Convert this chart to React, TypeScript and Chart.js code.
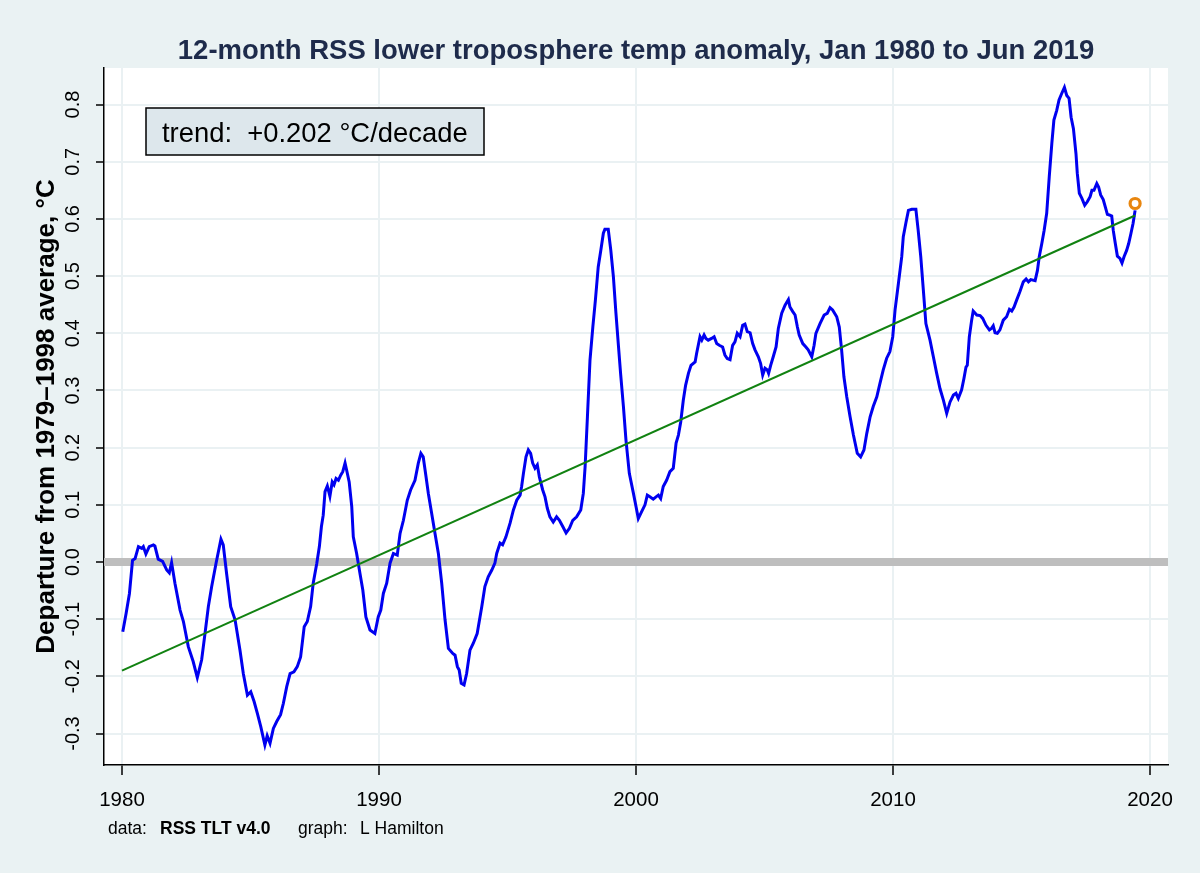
import React, { useEffect, useRef } from "react";
import { Chart, registerables } from "chart.js";

Chart.register(...registerables);

// ---- data ----
const years = [
  1980.03, 1980.16, 1980.29, 1980.41, 1980.51, 1980.64, 1980.77, 1980.83, 1980.93, 1981.06,
  1981.22, 1981.28, 1981.41, 1981.58, 1981.74, 1981.84, 1981.93, 1982.06, 1982.26, 1982.39,
  1982.58, 1982.77, 1982.93, 1983.10, 1983.23, 1983.36, 1983.49, 1983.66, 1983.85, 1983.94,
  1984.07, 1984.23, 1984.40, 1984.59, 1984.72, 1984.88, 1985.01, 1985.14, 1985.27, 1985.40,
  1985.56, 1985.65, 1985.76, 1985.89, 1986.02, 1986.17, 1986.28, 1986.41, 1986.54, 1986.69,
  1986.82, 1986.95, 1987.09, 1987.21, 1987.34, 1987.44, 1987.58, 1987.68, 1987.76, 1987.83,
  1987.90, 1987.99, 1988.09, 1988.18, 1988.25, 1988.33, 1988.42, 1988.51, 1988.59, 1988.68,
  1988.74, 1988.84, 1988.94, 1989.00, 1989.13, 1989.26, 1989.37, 1989.49, 1989.65, 1989.84,
  1989.97, 1990.07, 1990.17, 1990.30, 1990.43, 1990.56, 1990.71, 1990.82, 1990.95, 1991.10,
  1991.23, 1991.40, 1991.53, 1991.63, 1991.72, 1991.83, 1991.92, 1992.05, 1992.18, 1992.31,
  1992.44, 1992.57, 1992.70, 1992.87, 1992.96, 1993.05, 1993.12, 1993.20, 1993.31, 1993.41,
  1993.54, 1993.67, 1993.82, 1994.00, 1994.12, 1994.25, 1994.39, 1994.51, 1994.58, 1994.71,
  1994.81, 1994.94, 1995.10, 1995.23, 1995.36, 1995.49, 1995.55, 1995.62, 1995.72, 1995.81,
  1995.90, 1995.98, 1996.07, 1996.16, 1996.24, 1996.37, 1996.46, 1996.55, 1996.65, 1996.78,
  1996.91, 1997.02, 1997.15, 1997.28, 1997.41, 1997.54, 1997.69, 1997.85, 1997.95, 1998.02,
  1998.11, 1998.21, 1998.32, 1998.42, 1998.53, 1998.63, 1998.73, 1998.79, 1998.92, 1999.02,
  1999.12, 1999.22, 1999.31, 1999.40, 1999.51, 1999.61, 1999.74, 1999.90, 2000.00, 2000.09,
  2000.22, 2000.35, 2000.44, 2000.54, 2000.67, 2000.78, 2000.87, 2000.96, 2001.06, 2001.19,
  2001.32, 2001.45, 2001.56, 2001.65, 2001.74, 2001.84, 2001.93, 2002.04, 2002.14, 2002.30,
  2002.36, 2002.49, 2002.56, 2002.65, 2002.72, 2002.81, 2002.94, 2003.04, 2003.14, 2003.24,
  2003.37, 2003.46, 2003.55, 2003.66, 2003.76, 2003.85, 2003.94, 2004.05, 2004.15, 2004.24,
  2004.33, 2004.44, 2004.54, 2004.63, 2004.76, 2004.85, 2004.93, 2005.02, 2005.11, 2005.16,
  2005.24, 2005.34, 2005.45, 2005.54, 2005.67, 2005.80, 2005.93, 2005.99, 2006.10, 2006.19,
  2006.28, 2006.35, 2006.49, 2006.61, 2006.70, 2006.84, 2006.93, 2007.00, 2007.16, 2007.32,
  2007.44, 2007.55, 2007.65, 2007.81, 2007.91, 2008.00, 2008.09, 2008.20, 2008.33, 2008.46,
  2008.61, 2008.74, 2008.87, 2008.98, 2009.11, 2009.23, 2009.37, 2009.49, 2009.62, 2009.75,
  2009.88, 2009.99, 2010.08, 2010.21, 2010.34, 2010.40, 2010.51, 2010.60, 2010.73, 2010.89,
  2010.98, 2011.08, 2011.18, 2011.28, 2011.44, 2011.57, 2011.70, 2011.83, 2011.96, 2012.09,
  2012.22, 2012.35, 2012.45, 2012.54, 2012.67, 2012.76, 2012.84, 2012.89, 2012.97, 2013.06,
  2013.12, 2013.26, 2013.39, 2013.49, 2013.62, 2013.75, 2013.84, 2013.90, 2013.97, 2014.06,
  2014.16, 2014.29, 2014.42, 2014.53, 2014.62, 2014.71, 2014.81, 2014.94, 2015.07, 2015.18,
  2015.27, 2015.36, 2015.53, 2015.62, 2015.69, 2015.79, 2015.88, 2015.98, 2016.08, 2016.18,
  2016.26, 2016.37, 2016.46, 2016.56, 2016.67, 2016.76, 2016.85, 2016.93, 2017.02, 2017.12,
  2017.17, 2017.25, 2017.35, 2017.46, 2017.56, 2017.67, 2017.74, 2017.82, 2017.93, 2018.00,
  2018.08, 2018.18, 2018.26, 2018.34, 2018.42, 2018.51, 2018.57, 2018.65, 2018.73, 2018.83,
  2018.91, 2018.99, 2019.09, 2019.17, 2019.26, 2019.34, 2019.42,
];

const anomaly = [
  -0.122, -0.090, -0.055, 0.003, 0.006, 0.027, 0.024, 0.027, 0.014, 0.027,
  0.030, 0.028, 0.005, 0.001, -0.014, -0.019, -0.001, -0.037, -0.084, -0.104,
  -0.148, -0.174, -0.202, -0.171, -0.125, -0.078, -0.043, -0.002, 0.040, 0.030,
  -0.020, -0.078, -0.101, -0.154, -0.195, -0.233, -0.227, -0.244, -0.265, -0.288,
  -0.320, -0.304, -0.317, -0.291, -0.279, -0.267, -0.247, -0.218, -0.195, -0.192,
  -0.183, -0.166, -0.113, -0.104, -0.078, -0.037, -0.002, 0.027, 0.062, 0.082,
  0.123, 0.133, 0.115, 0.140, 0.135, 0.146, 0.143, 0.152, 0.158, 0.173,
  0.161, 0.140, 0.097, 0.044, 0.015, -0.020, -0.049, -0.096, -0.119, -0.125,
  -0.096, -0.084, -0.055, -0.037, -0.002, 0.015, 0.012, 0.050, 0.073, 0.108,
  0.126, 0.143, 0.173, 0.190, 0.184, 0.149, 0.120, 0.085, 0.050, 0.015,
  -0.037, -0.101, -0.151, -0.160, -0.163, -0.183, -0.189, -0.212, -0.215, -0.195,
  -0.154, -0.142, -0.125, -0.078, -0.043, -0.026, -0.014, -0.002, 0.015, 0.033,
  0.030, 0.044, 0.068, 0.091, 0.108, 0.117, 0.132, 0.155, 0.184, 0.196,
  0.190, 0.173, 0.164, 0.170, 0.149, 0.126, 0.114, 0.094, 0.079, 0.070,
  0.079, 0.073, 0.062, 0.051, 0.059, 0.073, 0.079, 0.091, 0.120, 0.167,
  0.254, 0.353, 0.411, 0.458, 0.516, 0.545, 0.575, 0.582, 0.582, 0.545,
  0.499, 0.435, 0.382, 0.330, 0.272, 0.213, 0.155, 0.120, 0.097, 0.076,
  0.088, 0.100, 0.117, 0.114, 0.110, 0.114, 0.117, 0.111, 0.132, 0.143,
  0.158, 0.164, 0.208, 0.222, 0.245, 0.283, 0.309, 0.330, 0.344, 0.350,
  0.365, 0.394, 0.388, 0.397, 0.391, 0.388, 0.391, 0.394, 0.382, 0.379,
  0.376, 0.362, 0.356, 0.354, 0.379, 0.385, 0.400, 0.394, 0.414, 0.416,
  0.403, 0.401, 0.382, 0.371, 0.359, 0.347, 0.327, 0.339, 0.336, 0.330,
  0.344, 0.359, 0.376, 0.409, 0.435, 0.449, 0.459, 0.446, 0.438, 0.432,
  0.411, 0.397, 0.382, 0.376, 0.371, 0.359, 0.379, 0.400, 0.417, 0.432,
  0.435, 0.445, 0.441, 0.429, 0.411, 0.371, 0.324, 0.289, 0.254, 0.222,
  0.190, 0.184, 0.196, 0.225, 0.254, 0.272, 0.289, 0.312, 0.336, 0.356,
  0.368, 0.394, 0.441, 0.487, 0.534, 0.569, 0.595, 0.615, 0.617, 0.617,
  0.580, 0.534, 0.476, 0.417, 0.388, 0.359, 0.330, 0.303, 0.283, 0.260,
  0.280, 0.292, 0.295, 0.286, 0.301, 0.321, 0.341, 0.344, 0.394, 0.423,
  0.439, 0.432, 0.431, 0.426, 0.414, 0.406, 0.409, 0.413, 0.401, 0.400,
  0.406, 0.423, 0.429, 0.442, 0.439, 0.446, 0.458, 0.473, 0.490, 0.495,
  0.490, 0.494, 0.492, 0.510, 0.534, 0.557, 0.580, 0.610, 0.674, 0.732,
  0.773, 0.790, 0.808, 0.819, 0.830, 0.816, 0.811, 0.778, 0.758, 0.714,
  0.680, 0.645, 0.636, 0.624, 0.630, 0.639, 0.650, 0.650, 0.662, 0.656,
  0.642, 0.634, 0.621, 0.608, 0.607, 0.605, 0.580, 0.557, 0.535, 0.531,
  0.523, 0.534, 0.545, 0.557, 0.575, 0.592, 0.615,
];

const trendYears = [1980.0, 2019.42];
const trendValues = [-0.19, 0.606];
const latestYear = [2019.42];
const latestValue = [0.627];
const zeroYears = [1979.3, 2020.7];
const zeroValues = [0, 0];

const xTicks = [1980, 1990, 2000, 2010, 2020];
const yTicks = [-0.3, -0.2, -0.1, 0.0, 0.1, 0.2, 0.3, 0.4, 0.5, 0.6, 0.7, 0.8];

const titleText = "12-month RSS lower troposphere temp anomaly, Jan 1980 to Jun 2019";
const yTitleText = "Departure from 1979\u20131998 average, \u00B0C";
const trendText = "trend:  +0.202 \u00B0C/decade";
const noteParts = ["data:", "RSS TLT v4.0", "graph:", "L Hamilton"];

const FONT = '"Liberation Sans", Arial, sans-serif';
const PAGE_BG = "#EAF2F3";

const pts = (xs: number[], ys: number[]) => xs.map((x, i) => ({ x, y: ys[i] }));

const decorPlugin = {
  id: "decor",
  beforeDraw(chart: any) {
    const { ctx, chartArea, width, height } = chart;
    ctx.save();
    ctx.fillStyle = PAGE_BG;
    ctx.fillRect(0, 0, width, height);
    ctx.fillStyle = "#FFFFFF";
    ctx.fillRect(chartArea.left, chartArea.top, chartArea.right - chartArea.left, chartArea.bottom - chartArea.top);
    ctx.restore();
  },
  afterDraw(chart: any) {
    const { ctx, chartArea } = chart;
    ctx.save();
    // title, centred over the plot region
    ctx.fillStyle = "#1E2B4B";
    ctx.font = `bold 27.5px ${FONT}`;
    ctx.textAlign = "center";
    ctx.textBaseline = "alphabetic";
    ctx.fillText(titleText, (chartArea.left + chartArea.right) / 2, 59);
    // trend box
    ctx.textAlign = "left";
    ctx.fillStyle = "#DDE7EC";
    ctx.fillRect(146, 108, 338, 47);
    ctx.strokeStyle = "#000000";
    ctx.lineWidth = 1.5;
    ctx.strokeRect(146, 108, 338, 47);
    ctx.fillStyle = "#000000";
    ctx.font = `27.4px ${FONT}`;
    ctx.fillText(trendText, 162, 142);
    // footnote
    ctx.font = `17.5px ${FONT}`;
    ctx.fillText(noteParts[0], 108, 834);
    ctx.font = `bold 17.5px ${FONT}`;
    ctx.fillText(noteParts[1], 160, 834);
    ctx.font = `17.5px ${FONT}`;
    ctx.fillText(noteParts[2], 298, 834);
    ctx.fillText(noteParts[3], 360, 834);
    ctx.restore();
  },
};

export default function App() {
  const ref = useRef<HTMLCanvasElement | null>(null);

  useEffect(() => {
    document.body.style.margin = "0";
    const canvas = ref.current;
    if (!canvas) return;
    const chart = new Chart(canvas, {
      type: "line",
      data: {
        datasets: [
          {
            data: pts(zeroYears, zeroValues),
            borderColor: "#BEBEBE",
            borderWidth: 8,
            pointRadius: 0,
            order: 4,
          },
          {
            data: pts(years, anomaly),
            borderColor: "#0000F0",
            borderWidth: 3,
            pointRadius: 0,
            tension: 0,
            order: 3,
          },
          {
            data: pts(trendYears, trendValues),
            borderColor: "#118211",
            borderWidth: 2,
            pointRadius: 0,
            order: 2,
          },
          {
            data: pts(latestYear, latestValue),
            showLine: false,
            pointRadius: 5,
            pointBorderWidth: 3.2,
            pointBorderColor: "#E8860F",
            pointBackgroundColor: "#FFFFFF",
            borderColor: "#E8860F",
            backgroundColor: "#FFFFFF",
            order: 1,
          },
        ] as any,
      },
      options: {
        responsive: false,
        animation: false,
        devicePixelRatio: 1,
        layout: { padding: { top: 68, left: 0, right: 32, bottom: 0 } },
        plugins: {
          legend: { display: false },
          tooltip: { enabled: false },
          title: { display: false },
        },
        scales: {
          x: {
            type: "linear",
            min: 1979.3,
            max: 2020.7,
            afterBuildTicks: (s: any) => {
              s.ticks = xTicks.map((v) => ({ value: v }));
            },
            afterFit: (s: any) => {
              s.height = 108;
            },
            ticks: {
              color: "#000000",
              font: { family: FONT, size: 20.5 },
              padding: 13,
              maxRotation: 0,
              callback: (v: any) => String(v),
            },
            grid: {
              color: "#EAF1F3",
              lineWidth: 2,
              tickColor: "#000000",
              tickWidth: 1.5,
              tickLength: 10,
            },
            border: { color: "#000000", width: 1.5 },
          },
          y: {
            type: "linear",
            min: -0.355,
            max: 0.864,
            afterBuildTicks: (s: any) => {
              s.ticks = yTicks.map((v) => ({ value: v }));
            },
            afterFit: (s: any) => {
              s.width = 104;
            },
            ticks: {
              color: "#000000",
              font: { family: FONT, size: 20 },
              padding: 5,
              minRotation: 90,
              maxRotation: 90,
              crossAlign: "center",
              callback: (v: any) => Number(v).toFixed(1),
            },
            grid: {
              color: "#EAF1F3",
              lineWidth: 2,
              tickColor: "#000000",
              tickWidth: 1.5,
              tickLength: 8,
            },
            border: { color: "#000000", width: 1.5 },
            title: {
              display: true,
              text: yTitleText,
              color: "#000000",
              font: { family: FONT, size: 26, weight: "bold" },
              padding: { top: 31, bottom: 0 },
            },
          },
        },
      },
      plugins: [decorPlugin],
    });
    return () => chart.destroy();
  }, []);

  return (
    <div style={{ width: 1200, height: 873 }}>
      <canvas ref={ref} width={1200} height={873} style={{ display: "block" }} />
    </div>
  );
}
